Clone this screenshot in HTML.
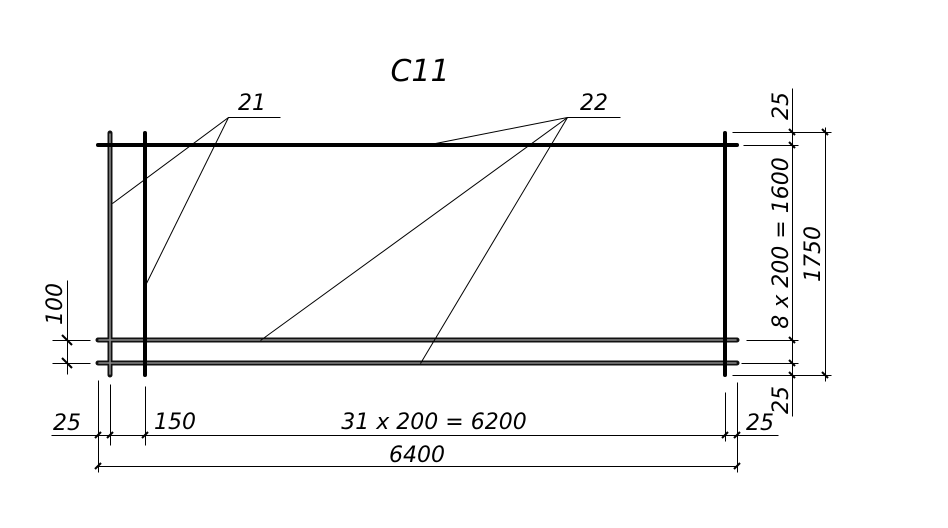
<!DOCTYPE html>
<html><head><style>body{margin:0;background:#fff}svg{display:block}text{font-family:"DejaVu Sans","Liberation Sans",sans-serif;font-style:italic;fill:#000}</style></head>
<body>
<svg width="948" height="528" viewBox="0 0 948 528" xmlns="http://www.w3.org/2000/svg">
<g stroke-linecap="round">
<g stroke="#111" stroke-width="5">
<line x1="98" y1="340" x2="737" y2="340"/><line x1="98" y1="363" x2="737" y2="363"/><line x1="110" y1="133" x2="110" y2="375"/>
</g>
<g stroke="#888" stroke-width="1.6">
<line x1="99" y1="340" x2="736" y2="340"/><line x1="99" y1="363" x2="736" y2="363"/><line x1="110" y1="134" x2="110" y2="374"/>
</g>
<g stroke="#000" stroke-width="4">
<line x1="98" y1="145" x2="737" y2="145"/><line x1="145" y1="133" x2="145" y2="375"/><line x1="725" y1="133" x2="725" y2="375"/>
</g>
</g>
<g stroke="#000" stroke-width="1" fill="none" transform="translate(0.5,0.5)">
<polyline points="112,203 228,117 280,117"/><line x1="228" y1="117" x2="146" y2="283"/>
<polyline points="425,145 567,117 620,117"/><line x1="567" y1="117" x2="260" y2="340"/><line x1="567" y1="117" x2="420" y2="363"/>
<line x1="51" y1="435" x2="778" y2="435"/><line x1="98" y1="466" x2="737" y2="466"/>
<line x1="98" y1="380" x2="98" y2="472"/><line x1="110" y1="384" x2="110" y2="445"/><line x1="145" y1="386" x2="145" y2="445"/>
<line x1="725" y1="392" x2="725" y2="441"/><line x1="737" y1="382" x2="737" y2="472"/>
<line x1="792" y1="88" x2="792" y2="416"/><line x1="825" y1="127" x2="825" y2="381"/>
<line x1="732" y1="132" x2="831" y2="132"/><line x1="743" y1="145" x2="798" y2="145"/>
<line x1="746" y1="340" x2="798" y2="340"/><line x1="741" y1="363" x2="798" y2="363"/><line x1="732" y1="375" x2="831" y2="375"/>
<line x1="67" y1="280" x2="67" y2="374"/><line x1="52" y1="340" x2="90" y2="340"/><line x1="52" y1="363" x2="90" y2="363"/>
</g>
<g stroke="#000" stroke-width="2">
<line x1="95" y1="438" x2="101" y2="432"/><line x1="107" y1="438" x2="113" y2="432"/><line x1="142" y1="438" x2="148" y2="432"/>
<line x1="722" y1="438" x2="728" y2="432"/><line x1="734" y1="438" x2="740" y2="432"/><line x1="95" y1="469" x2="101" y2="463"/><line x1="734" y1="469" x2="740" y2="463"/>
<line x1="789" y1="129" x2="795" y2="135"/><line x1="789" y1="142" x2="795" y2="148"/><line x1="789" y1="337" x2="795" y2="343"/><line x1="789" y1="360" x2="795" y2="366"/><line x1="789" y1="372" x2="795" y2="378"/>
<line x1="822" y1="129" x2="828" y2="135"/><line x1="822" y1="372" x2="828" y2="378"/>
<line x1="62" y1="335" x2="72" y2="345"/><line x1="62" y1="358" x2="72" y2="368"/>
</g>
<text x="420" y="81" font-size="30" text-anchor="middle">C11</text>
<text x="252" y="110" font-size="22" text-anchor="middle">21</text>
<text x="594" y="110" font-size="22" text-anchor="middle">22</text>
<text x="67" y="430" font-size="22" text-anchor="middle">25</text>
<text x="175" y="429" font-size="22" text-anchor="middle">150</text>
<text x="434" y="429" font-size="22" text-anchor="middle">31 x 200 = 6200</text>
<text x="760" y="430" font-size="22" text-anchor="middle">25</text>
<text x="417" y="462" font-size="22" text-anchor="middle">6400</text>
<text transform="translate(788,106) rotate(-90)" font-size="22" text-anchor="middle">25</text>
<text transform="translate(788,243) rotate(-90)" font-size="22" text-anchor="middle">8 x 200 = 1600</text>
<text transform="translate(820,254) rotate(-90)" font-size="22" text-anchor="middle">1750</text>
<text transform="translate(788,400) rotate(-90)" font-size="22" text-anchor="middle">25</text>
<text transform="translate(62,304) rotate(-90)" font-size="22" text-anchor="middle">100</text>
</svg>
</body></html>
